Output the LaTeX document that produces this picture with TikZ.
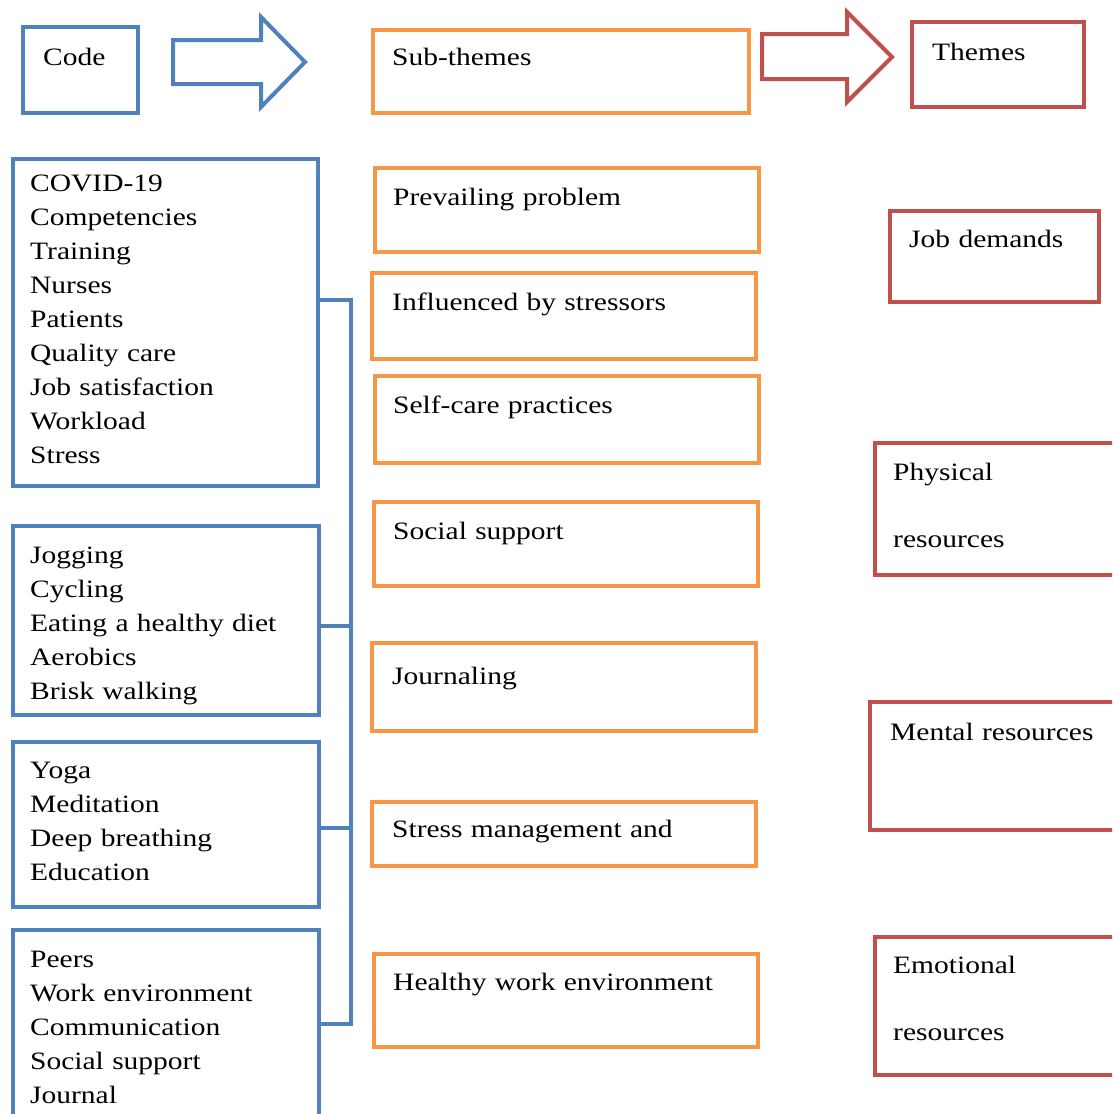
\documentclass[tikz,border=0pt]{standalone}
\usepackage{fontspec}
\setmainfont{Liberation Serif}[FakeStretch=1.18]
\usepackage{tikz}
\usetikzlibrary{calc}
\usepackage{xcolor}
\definecolor{mysteelblue}{RGB}{79, 129, 189}
\definecolor{mysandybrown}{RGB}{247, 150, 70}
\definecolor{myindianred}{RGB}{192, 80, 77}

\begin{document}
\begin{tikzpicture}[
            x=1pt, y=-1pt,
            font=\fontsize{25}{34}\selectfont,
            box/.style={
                rectangle,
                draw=#1,
                line width=4pt,
                anchor=north west,
                inner sep=0pt
            },
            words/.style={
                anchor=base west,
                inner sep=0pt,
                text width=#1,
                align=left
            },
            words/.default=280pt,
            bigarrow/.style={draw=#1, line width=4pt, line join=miter},
            bracket/.style={draw=mysteelblue, line width=4pt}
        ]

            \useasboundingbox (0,0) rectangle (1112,1114);
            \clip (0,0) rectangle (1112,1114);

            % Header row
            \node[box=mysteelblue, minimum width=115pt, minimum height=86pt] (code) at (21,25) {};
            \node[words] (codetxt) at ($(code.north west)+(22,40)$) {Code};

            \node[box=mysandybrown, minimum width=376pt, minimum height=83pt] (sub) at (371,28) {};
            \node[words] (subtxt) at ($(sub.north west)+(21,37)$) {Sub-themes};

            \node[box=myindianred, minimum width=172pt, minimum height=85pt] (themes) at (910,20) {};
            \node[words] (themestxt) at ($(themes.north west)+(22,40)$) {Themes};

            % Codes
            \node[box=mysteelblue, minimum width=305pt, minimum height=327pt] (c1) at (11,157) {};
            \node[words] (c1txt) at ($(c1.north west)+(19,34)$) {COVID-19\\ Competencies\\ Training\\ Nurses\\ Patients\\ Quality care\\ Job satisfaction\\ Workload\\ Stress};

            \node[box=mysteelblue, minimum width=306pt, minimum height=189pt] (c2) at (11,524) {};
            \node[words] (c2txt) at ($(c2.north west)+(19,39)$) {Jogging\\ Cycling\\ Eating a healthy diet\\ Aerobics\\ Brisk walking};

            \node[box=mysteelblue, minimum width=306pt, minimum height=165pt] (c3) at (11,740) {};
            \node[words] (c3txt) at ($(c3.north west)+(19,38)$) {Yoga\\ Meditation\\ Deep breathing\\ Education};

            \node[box=mysteelblue, minimum width=306pt, minimum height=202pt] (c4) at (11,928) {};
            \node[words] (c4txt) at ($(c4.north west)+(19,39)$) {Peers\\ Work environment\\ Communication\\ Social support\\ Journal};

            % Sub-themes
            \node[box=mysandybrown, minimum width=384pt, minimum height=84pt] (s1) at (373,166) {};
            \node[words=360pt] (s1txt) at ($(s1.north west)+(20,39)$) {Prevailing problem};

            \node[box=mysandybrown, minimum width=384pt, minimum height=86pt] (s2) at (370,271) {};
            \node[words=360pt] (s2txt) at ($(s2.north west)+(22,39)$) {Influenced by stressors};

            \node[box=mysandybrown, minimum width=384pt, minimum height=87pt] (s3) at (373,374) {};
            \node[words=360pt] (s3txt) at ($(s3.north west)+(20,39)$) {Self-care practices};

            \node[box=mysandybrown, minimum width=384pt, minimum height=84pt] (s4) at (372,500) {};
            \node[words=360pt] (s4txt) at ($(s4.north west)+(21,39)$) {Social support};

            \node[box=mysandybrown, minimum width=384pt, minimum height=88pt] (s5) at (370,641) {};
            \node[words=360pt] (s5txt) at ($(s5.north west)+(22,43)$) {Journaling};

            \node[box=mysandybrown, minimum width=384pt, minimum height=64pt] (s6) at (370,800) {};
            \node[words=360pt] (s6txt) at ($(s6.north west)+(22,37)$) {Stress management and};

            \node[box=mysandybrown, minimum width=384pt, minimum height=93pt] (s7) at (372,952) {};
            \node[words=360pt] (s7txt) at ($(s7.north west)+(21,38)$) {Healthy work environment};

            % Themes
            \node[box=myindianred, minimum width=209pt, minimum height=91pt] (t1) at (888,209) {};
            \node[words=200pt] (t1txt) at ($(t1.north west)+(21,38)$) {Job demands};

            \node[box=myindianred, minimum width=252pt, minimum height=132pt] (t2) at (873,441) {};
            \node[words=220pt] (t2txt) at ($(t2.north west)+(20,39)$) {Physical\\[33pt]resources};

            \node[box=myindianred, minimum width=257pt, minimum height=128pt] (t3) at (868,700) {};
            \node[words=230pt] (t3txt) at ($(t3.north west)+(22,40)$) {Mental resources};

            \node[box=myindianred, minimum width=252pt, minimum height=138pt] (t4) at (873,935) {};
            \node[words=220pt] (t4txt) at ($(t4.north west)+(20,38)$) {Emotional\\[33pt]resources};

            % Bracket
            \coordinate (j1) at (351,300);
            \coordinate (j2) at (351,626);
            \coordinate (j3) at (351,828);
            \coordinate (j4) at (351,1024);
            \draw[bracket] (c1.east |- j1) -- (j1) -- (j4) -- (c4.east |- j4);
            \draw[bracket] (c2.east |- j2) -- (j2);
            \draw[bracket] (c3.east |- j3) -- (j3);

            % Arrows
            \draw[bigarrow=mysteelblue] (173,40) -- (261,40) -- (261,17) -- (305,62)
                -- (261,107) -- (261,84) -- (173,84) -- cycle;
            \draw[bigarrow=myindianred] (762,34) -- (847,34) -- (847,12) -- (892,57)
                -- (847,102) -- (847,79) -- (762,79) -- cycle;
        \end{tikzpicture}
\end{document}
